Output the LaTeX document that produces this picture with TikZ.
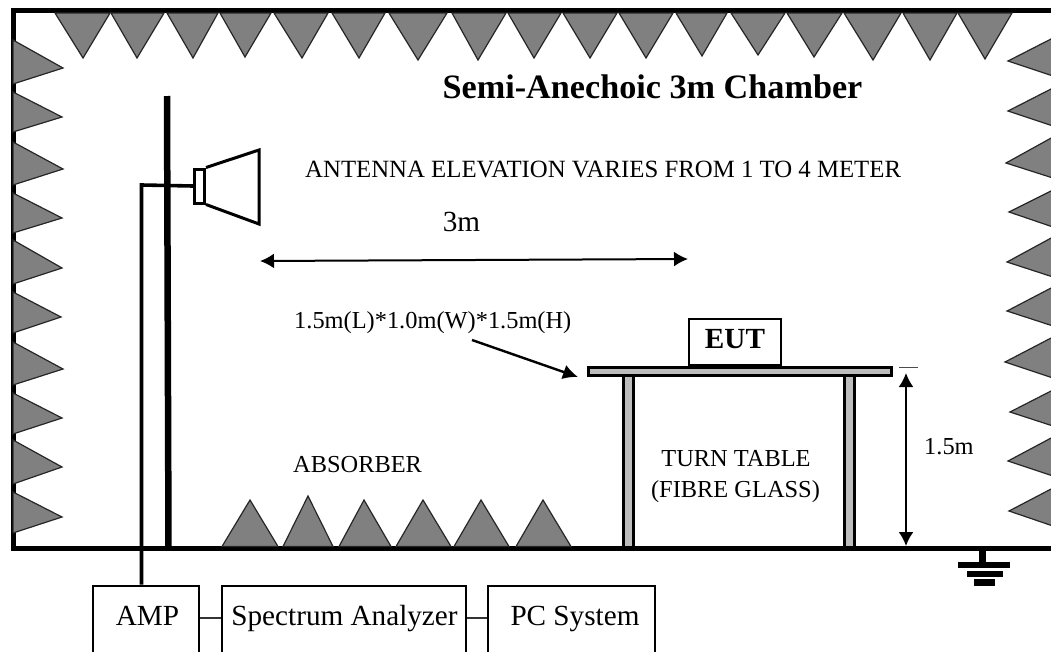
\documentclass[tikz,border=0pt]{standalone}
\usepackage{fontspec}
\setmainfont{Liberation Serif}
\usetikzlibrary{arrows.meta}
\definecolor{absorbgray}{gray}{0.5}
\definecolor{tablegray}{gray}{0.74}
\tikzset{
  absorber/.style={fill=absorbgray,draw=black!85,line width=1.2pt,line join=miter},
  wall/.style={line width=5pt,draw=black},
  lbl/.style={anchor=base west,inner sep=0pt,font=\fontsize{24.4}{24.4}\selectfont},
  lblc/.style={anchor=base,inner sep=0pt,font=\fontsize{24.4}{24.4}\selectfont},
  bigtxt/.style={anchor=base,inner sep=0pt,font=\fontsize{29.2}{29.2}\selectfont},
  instr/.style={anchor=base,draw,line width=2.8pt,inner sep=0pt,text height=39pt,text depth=35pt,font=\fontsize{29.2}{29.2}\selectfont},
  tablepart/.style={fill=tablegray,draw=black,line width=3pt},
  link/.style={line width=2.6pt,draw=black!80},
  dimarrow/.style={line width=2pt,{Latex[length=14pt,width=15pt]}-{Latex[length=14pt,width=15pt]}},
  gbar/.style={fill=black,draw=none},
}
\begin{document}
\begin{tikzpicture}[x=1pt,y=-1pt]
\useasboundingbox (0,0) rectangle (1051,651);
\clip (0,0) rectangle (1051,651);
\fill[white] (0,0) rectangle (1051,651);
% chamber walls
\draw[wall,line join=miter] (1053,10.5) -- (13.5,10.5) -- (13.5,548.5) -- (1053,548.5);
% top absorbers
\foreach \a/\t/\ty/\b in {55/83/58/110,111/137/58/164,167/193/58/218,220/245/57/271,274/302/58/328,332/359/58/385,389/418/60/447,452/478/60/506,508/534/58/561,563/590/58/617,619/646/58/673,676/702/56/727,731/758/55/785,787/814/57/842,844/873/60/901,903/930/60/957,958/985/59/1012}
  \draw[absorber] (\a,13) -- (\t,\ty) -- (\b,13) -- cycle;
% left absorbers
\foreach \a/\t/\tx/\b in {40/68/63/84,92/117/62/132,142/169/63/185,193/218/62/233,240/268/62/284,292/317/61/333,342/369/63/385,393/418/62/434,440/467/62/484,492/517/62/533}
  \draw[absorber] (13,\a) -- (\tx,\t) -- (13,\b) -- cycle;
% right absorbers
\foreach \a/\t/\tx/\b in {38/61/1008/76,88/111/1008/126,137/163/1006/178,190/212/1009/227,237/262/1007/277,287/311/1007/326,337/362/1005/378,390/412/1010/426,437/461/1008/476,488/511/1009/526}
  \draw[absorber] (1053,\a) -- (\tx,\t) -- (1053,\b) -- cycle;
% floor absorbers
\foreach \a/\t/\ty/\b in {222/250/500/278,283/308/496/333,339/364/500/391,396/423/500/451,454/481/500/509,516/543/500/571}
  \draw[absorber] (\a,546.5) -- (\t,\ty) -- (\b,546.5) -- cycle;
% mast
\draw[line width=6.5pt] (167,96) -- (168.5,547);
% horn
\node[draw,line width=3pt,minimum width=10pt,minimum height=34pt,inner sep=0pt] (feed) at (199.5,186) {};
\draw[line width=3pt,line join=miter] (feed.north east) -- (259,150) -- (259,224) -- (feed.south east);
% instruments
\node[instr,minimum width=106pt] (amp) at (146,625) {\hspace*{3pt}AMP};
\node[instr,minimum width=244pt] (sa) at (344,625) {\hspace*{1pt}Spectrum Analyzer};
\node[instr,minimum width=167pt] (pc) at (571.5,625) {\hspace*{7pt}PC System};
\coordinate (ampmid) at (200,618);
\draw[link] (amp.east |- ampmid) -- (sa.west |- ampmid);
\draw[link] (sa.east |- ampmid) -- (pc.west |- ampmid);
% feed cable
\coordinate (bend) at (141.5,185);
\draw[line width=3.6pt,line join=miter] (feed.west) -- (bend) -- (bend |- amp.north);
% turn table
\node[tablepart,inner sep=0pt,minimum width=10pt,minimum height=172pt] (legl) at (628,461.5) {};
\node[tablepart,inner sep=0pt,minimum width=10pt,minimum height=172pt] (legr) at (849.5,461.5) {};
\node[tablepart,inner sep=0pt,minimum width=303pt,minimum height=8pt] (top) at (740,371.5) {};
\node[draw,line width=2.8pt,inner sep=0pt,minimum width=92pt,minimum height=46pt,fill=white] (eut) at (735,342) {};
\node[anchor=base,inner sep=0pt,font=\fontsize{29.2}{29.2}\selectfont\bfseries] (euttxt) at (735,348) {EUT};
% height dimension
\coordinate (dimtop) at (906,373);
\coordinate (dimbot) at (906,546);
\coordinate (ticka) at (899,367.5);
\coordinate (tickb) at (918,367.5);
\draw[dimarrow] (dimtop) -- (dimbot);
\draw[line width=1.4pt,draw=black!70] (ticka) -- (tickb);
% 3 m arrow
\coordinate (rangea) at (260,261);
\coordinate (rangeb) at (688,259);
\draw[dimarrow] (rangea) -- (rangeb);
% labels
\node[anchor=base,inner sep=0pt,font=\fontsize{34.2}{34.2}\selectfont\bfseries] (title) at (652.5,98) {Semi-Anechoic 3m Chamber};
\node[anchor=base west,inner sep=0pt,font=\fontsize{24.8}{24.8}\selectfont] (elev) at (305,177) {ANTENNA ELEVATION VARIES FROM 1 TO 4 METER};
\node[bigtxt] (threem) at (461.5,231) {3m};
\node[lbl] (size) at (294,328) {1.5m(L)*1.0m(W)*1.5m(H)};
\coordinate (sizefrom) at (472,340);
\coordinate (sizeto) at (578,377);
\draw[line width=2.4pt,-{Latex[length=15pt,width=15pt]}] (sizefrom) -- (sizeto);
\node[lbl] (abs) at (293,472) {ABSORBER};
\node[lblc] (tt1) at (736,466) {TURN TABLE};
\node[lblc] (tt2) at (735.5,497) {(FIBRE GLASS)};
\node[lbl] (h) at (924,454) {1.5m};
% ground
\coordinate (gnd) at (982.5,551);
\coordinate (gndb) at (982.5,563);
\draw[line width=7pt] (gnd) -- (gndb);
\fill[gbar] (958,562) rectangle (1010,568);
\fill[gbar] (967,571) rectangle (1003,577);
\fill[gbar] (974,579) rectangle (995,586);
\end{tikzpicture}
\end{document}
